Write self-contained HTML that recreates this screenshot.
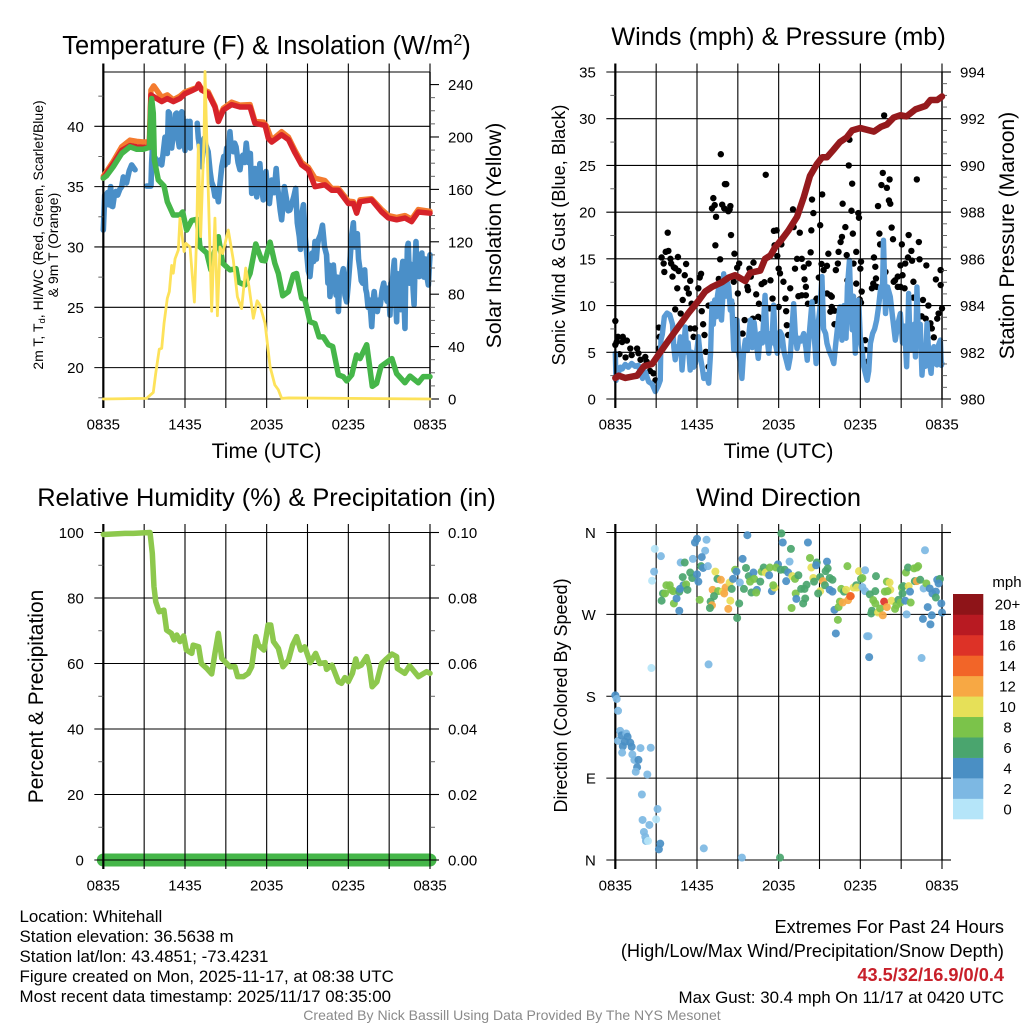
<!DOCTYPE html>
<html lang="en">
<head>
<meta charset="utf-8">
<title>Whitehall Mesonet Meteogram</title>
<style>
html,body{margin:0;padding:0;background:#fff}
svg{display:block;font-family:"Liberation Sans",Arial,sans-serif}
text{fill:#000}
</style>
</head>
<body>
<svg id="fig" xmlns="http://www.w3.org/2000/svg" width="1024" height="1024" viewBox="0 0 1024 1024">
<rect width="1024" height="1024" fill="#fff"/>

<text x="266.5" y="54" font-size="25.5" text-anchor="middle">Temperature (F) &amp; Insolation (W/m<tspan dy="-9" font-size="16">2</tspan><tspan dy="9">)</tspan></text>
<text x="778.5" y="45" font-size="25.3" text-anchor="middle">Winds (mph) &amp; Pressure (mb)</text>
<text x="266.5" y="506" font-size="25.4" text-anchor="middle">Relative Humidity (%) &amp; Precipitation (in)</text>
<text x="778.5" y="506" font-size="25.4" text-anchor="middle">Wind Direction</text>

<text x="266.5" y="458" font-size="21.2" text-anchor="middle">Time (UTC)</text>
<text x="778.5" y="458" font-size="21.2" text-anchor="middle">Time (UTC)</text>

<text transform="translate(43,235) rotate(-90)" font-size="14" text-anchor="middle">2m T, T<tspan dy="2" font-size="9.5">d</tspan><tspan dy="-2">, HI/WC (Red, Green, Scarlet/Blue)</tspan></text>
<text transform="translate(58,245) rotate(-90)" font-size="14" text-anchor="middle">&amp; 9m T (Orange)</text>
<text transform="translate(501,235.5) rotate(-90)" font-size="21.1" text-anchor="middle">Solar Insolation (Yellow)</text>
<text transform="translate(565,235) rotate(-90)" font-size="18.2" text-anchor="middle">Sonic Wind &amp; Gust (Blue, Black)</text>
<text transform="translate(1014,235.5) rotate(-90)" font-size="21.1" text-anchor="middle">Station Pressure (Maroon)</text>
<text transform="translate(43,696.5) rotate(-90)" font-size="21" text-anchor="middle">Percent &amp; Precipitation</text>
<text transform="translate(567,695.5) rotate(-90)" font-size="18" text-anchor="middle">Direction (Colored By Speed)</text>

<text x="1007" y="587" font-size="15" text-anchor="middle">mph</text>

<text x="19.5" y="922" font-size="16.9">Location: Whitehall</text>
<text x="19.5" y="942" font-size="16.9">Station elevation: 36.5638 m</text>
<text x="19.5" y="962" font-size="16.9">Station lat/lon: 43.4851; -73.4231</text>
<text x="19.5" y="982" font-size="16.9">Figure created on Mon, 2025-11-17, at 08:38 UTC</text>
<text x="19.5" y="1002" font-size="16.9">Most recent data timestamp: 2025/11/17 08:35:00</text>

<text x="1004" y="933" font-size="18.2" text-anchor="end">Extremes For Past 24 Hours</text>
<text x="1004" y="957" font-size="18.2" text-anchor="end">(High/Low/Max Wind/Precipitation/Snow Depth)</text>
<text x="1004" y="981" font-size="18.2" font-weight="bold" text-anchor="end" style="fill:#c8202a">43.5/32/16.9/0/0.4</text>
<text x="1004" y="1003" font-size="16.9" text-anchor="end">Max Gust: 30.4 mph On 11/17 at 0420 UTC</text>
<text x="512" y="1020" font-size="14.05" text-anchor="middle" style="fill:#8a8a8a">Created By Nick Bassill Using Data Provided By The NYS Mesonet</text>
</svg>

<script>
const timeLabels = ['0835','1435','2035','0235','0835'];
const tempTicks = [20,25,30,35,40];
const solarTicks = [0,40,80,120,160,200,240];
const windTicks = [0,5,10,15,20,25,30,35];
const pressureTicks = [980,982,984,986,988,990,992,994];
const humidityTicks = [0,20,40,60,80,100];
const precipTicks = ['0.00','0.02','0.04','0.06','0.08','0.10'];
const directionTicks = [0,90,180,270,360];
const directionLabels = ['N','E','S','W','N'];
const speedLabels = ['0','2','4','6','8','10','12','14','16','18','20+'];
const speedColors = ['#b5e5f9','#7db8e3','#4a8fc4','#4aa56e','#7bc34a','#e6e058','#f7a844','#f26528','#dd3227','#b81a22','#8e1418'];

const redHours = [0,.24,.73,1.35,1.96,2.45,2.94,3.38,3.5,3.92,4.29,4.7,5.14,5.63,6,6.49,6.86,7,7.22,7.71,8.2,8.45,8.82,9.43,10.04,10.78,11.14,11.76,11.88,12.12,12.37,13.1,13.6,14.08,14.57,15.06,15.55,16.28,16.78,17.27,18,18.37,18.61,18.86,19.71,20.45,20.94,21.55,22.16,22.65,23.14,24];
const redTemps = [35.7,36.1,36.9,38,38.4,38.3,38.25,38.25,42.6,42.3,42.05,42.3,42.05,42.3,42.7,42.95,43.15,43.5,43,42.7,41.6,40.4,41.35,41.8,41.6,41.6,40.25,40.1,40.1,39,38.7,39.3,38.9,37.8,36.8,36.4,35,35.15,34.7,34.7,33.6,33.6,32.8,33.75,33.9,32.9,32.4,32.25,32.4,32.1,32.9,32.8];

const orangeHours = [0,.73,1.35,1.96,2.45,2.94,3.38,3.5,3.7,3.92,4.29,4.7,5.14,5.63,6,6.49,6.86,7,7.22,7.71,8.2,8.45,8.82,9.43,10.04,10.78,11.14,11.76,12,12.37,13.1,13.6,14.08,14.57,15.06,15.55,16.28,16.78,17.27,18,18.37,18.61,18.86,19.71,20.45,20.94,21.55,22.16,22.65,23.14,24];
const orangeTemps = [35.85,37.1,38.3,38.85,38.75,38.7,38.7,43,43.35,43,42.4,42.6,42.2,42.5,42.85,43.05,43.2,43.5,43.1,42.85,41.7,40.6,41.5,42,41.75,41.8,40.4,40.35,40,38.85,39.55,39.1,38,37,36.6,35.7,35.5,34.85,34.85,33.8,33.75,33,33.9,34,33.1,32.6,32.45,32.6,32.3,33.1,32.95];

const greenHours = [0,.24,.73,1.35,1.96,2.45,2.94,3.38,3.5,3.55,3.67,3.75,4.04,4.46,4.7,5.14,5.63,5.83,6.12,6.49,6.9,7.1,7.6,7.9,8.08,8.45,8.77,9.3,9.75,9.92,10.4,10.78,11.2,11.63,11.88,12.25,12.6,12.86,13.18,13.6,13.96,14.2,14.57,14.8,15.18,15.55,15.85,16.16,16.53,16.85,17.27,17.63,17.88,18.25,18.6,18.86,19.35,19.76,20.08,20.4,21.2,21.55,22.16,22.53,23.14,23.5,24];
const greenTemps = [35.7,35.9,36.65,37.75,38.3,38.1,38.1,38.25,41.9,42.3,41.1,37.2,35.55,35.05,33.75,32.65,32.65,32.9,31.4,32.2,32.3,30,29.5,28.1,29.2,30.85,28.65,28.1,28.2,27.1,26.85,27.8,30.25,28.9,28.85,30.4,28.65,27.8,25.95,26.3,27.7,27.8,25.75,25.65,23.8,23.65,22.55,22.55,21.9,21.75,19.4,19.25,18.9,19.4,21.05,20.75,21.9,18.45,18.7,20.1,20.75,19.5,18.75,19.3,18.75,19.25,19.25];

const blueHours = [0,.05,.1,.2,.3,.37,.54,.6,.69,.8,.93,1.05,1.22,1.35,1.47,1.7,1.9,2.08,2.33,2.34,
3.18,3.5,3.55,3.6,3.7,3.8,4,4.15,4.29,4.4,
4.53,4.62,4.7,4.78,4.85,4.95,5.02,5.1,5.2,5.3,
5.39,5.48,5.58,5.68,5.76,5.85,5.92,6,6.1,6.17,
6.27,6.37,6.38,6.4,6.9,6.98,7.05,7.15,7.22,7.3,
7.4,7.55,7.7,7.85,7.95,8.08,8.2,8.3,8.45,8.55,
8.7,8.85,8.95,9.06,9.15,9.3,9.4,9.55,9.65,9.75,
9.9,10.04,10.15,10.25,10.38,10.5,10.65,10.8,10.9,11,
11.14,11.27,11.38,11.5,11.62,11.75,11.85,11.95,12.08,12.2,
12.37,12.55,12.7,12.8,12.9,13,13.1,13.2,13.3,13.45,
13.58,13.7,13.85,14,14.13,14.25,14.4,14.48,14.55,14.7,
14.82,14.94,15.06,15.18,15.28,15.35,15.45,15.55,15.65,15.72,
15.8,15.95,16.1,16.25,16.4,16.5,16.58,16.65,16.8,16.9,
17,17.1,17.2,17.27,17.36,17.45,17.55,17.63,17.75,17.88,
18,18.1,18.25,18.37,18.45,18.5,18.66,18.75,18.86,18.95,
19.05,19.2,19.28,19.35,19.45,19.55,19.65,19.72,19.82,19.9,
20,20.13,20.25,20.35,20.48,20.6,20.72,20.85,20.95,21.06,
21.13,21.2,21.3,21.38,21.48,21.55,21.6,21.65,21.72,21.78,
21.85,21.93,22,22.08,22.16,22.22,22.28,22.34,22.4,22.5,
22.55,22.62,22.7,22.76,22.83,22.9,22.97,23.03,23.1,23.2,
23.3,23.4,23.47,23.55,23.62,23.7,23.78,23.88,23.95,24];
const blueTemps = [31.4,32.8,34.3,33.6,34.5,33.5,35,33.4,33.35,34.2,34.6,34.3,34.8,35,35.8,35.3,36.3,36.8,36.4,null,
35.05,35.05,37,38.05,37,37.4,36.9,37.2,36.8,37.8,
39.1,38,37.75,41.2,41.1,39,38.2,39,39.5,41,
41.1,39,38.3,40,41.2,40.8,39,38,39.4,40.4,
39,40.4,38.2,null,40.25,39,38.5,37.5,36.65,38,
39,38.4,37.9,36.2,35.4,35,34.2,34.8,33.75,35,
36.65,37.5,36.8,38.2,37,39.55,38.2,37.9,38.6,38.3,
37,36.4,37.4,37.6,37,38.6,37,37.75,34.45,35.5,
36.5,34.15,35.4,36.9,35,33.9,35,36.25,34.5,33.6,
35.55,34.5,36.5,35,34,33,32.25,33.5,35,34,
33,33.05,33.6,34.2,34.85,32,30.85,29.8,32.5,33.5,
31,29.5,28,27.55,28.8,29.5,28.8,30.45,29,30,
30.6,31,31.8,30,29.35,27,28.5,25.9,27.5,28.5,
27,26,27.5,24.65,27,26.5,27.8,28.2,26,25.45,
27,28.5,31,32,30,31,31.1,29,28.1,27.2,
27,28.1,26.5,26.15,25,25.6,24.5,23.4,25.5,26.3,
25.2,24.65,25.6,25.2,26.4,27,26,25.5,26.6,24.35,
27,26.5,28,28.9,25.5,23.8,27.8,27,26.7,25,
24.8,28,28.8,26,23.25,28,27,30,30.3,27,
28.6,27.2,28.5,26.5,25.2,28.5,30.45,28,28.2,27.55,
29,29.5,28,27.5,29,29,27.5,26.85,28.4,29.35];

const solarHours = [0,3.18,3.67,3.85,4.11,4.29,4.46,4.7,4.85,5.02,5.14,5.27,5.51,5.63,5.93,6.07,6.37,6.69,6.86,6.98,7.15,7.4,7.47,7.6,7.96,8.2,8.38,8.57,8.77,9.18,9.55,9.85,10.16,10.46,10.7,11.02,11.3,11.5,11.88,12.25,12.6,12.86,13.1,13.6,24];
const solarValues = [0,.5,5,19.6,38,38.7,57.8,76.8,82,102,96,107,113.7,138,112.5,118.8,116,74,126,194,124,200,250,199,67,138,63.6,116,111,129,106,78,69,100,86,61.6,75,71.8,57.8,24.7,10.7,7,.5,.8,0];

const gustHours = [0,.2,.1,0,.55,.85,.5,.3,.75,1.1,1.2,1.6,1.7,1.85,2.2,2.3,2.55,2.8,2.95,3.2,3.25,3.2,3.4,3.55,3.6,3.7,3.9,3.85,4.05,4.1,4.3,4.2,4.4,4.6,4.65,4.55,4.4,4.8,4.95,5.1,5.2,5.25,5.4,5.5,5.6,5.5,5.85,5.75,6.1,6.2,6.3,6.35,6.45,6.55,6.65,6.85,6.85,7.1,7.2,7.3,7.4,7.35,7.6,7.7,7.85,7.75,8,8.05,8.15,8.3,8.4,8.45,8.5,8.7,8.75,8.55,8.85,9,8.95,9.1,9.35,9.5,9.7,9.75,9.85,9.95,10.15,10.1,10.35,10.55,10.5,10.75,10.75,10.95,11.05,11.25,11.4,11.35,11.55,11.65,11.85,11.7,11.9,12,12.1,12,12.2,12.35,12.5,12.55,12.6,12.7,12.85,13.05,13.1,13.2,13.35,13.45,13.55,13.7,13.7,13.85,13.9,14,14,14.15,14.2,14.35,14.4,14.45,14.55,14.7,14.8,14.8,15.05,15.2,15.15,15.3,14.95,15.55,15.65,15.55,15.8,15.9,15.9,15.8,16.1,16.1,16.2,16.35,16.4,16.55,16.65,16.7,16.9,17,17.05,17.2,17.15,17.35,17.4,17.45,17.5,17.7,17.7,17.85,17.9,18,18.05,18.1,17.95,18.05,18.35,18.35,18.55,18.85,19,19.1,19.15,18.95,19.2,19.3,19.4,19.45,19.55,19.65,19.75,19.95,20.1,20.15,20.2,20.3,20.4,19.85,20.45,20.55,20.75,20.75,20.95,21.05,20.95,21.1,21.3,21.25,21.55,21.75,21.5,21.8,21.9,21.9,22.15,22.3,22.35,22.6,22.5,22.8,22.85,23,23.15,23.25,23.4,23.55,23.65,23.9,23.75,23.9,24];
const gustSpeeds = [8.35,6.65,6.1,5.8,6.65,6.25,6.1,4.8,4.45,5.4,4.7,5.4,4.9,4.2,4.5,4,3,2.75,2,7.65,6.65,5.4,15.15,14.5,13.6,15.75,15.85,17.8,15,14.5,14.1,13.1,14,15.2,13.7,11.85,9.6,9.15,10.6,13.25,14.45,11.85,11.3,12.65,10.2,7.55,7.55,6.65,11.85,13,13.4,9.4,8,6.85,5.05,3.45,10,20.4,21.5,20.75,19.5,16.45,12.85,14.95,20.8,26.2,20.4,23,23,20.1,20.3,20.65,17.55,12.55,15.55,10.2,8.45,11.3,14.05,14.5,7,8.45,12,11.65,13.95,13.1,14.6,8.6,11.2,10.2,8.8,8.6,12.3,12.5,24,15.2,12.7,9.7,10.75,18,18.05,16.45,15.3,13.95,13.45,9.85,16.55,12.55,10.75,9.4,7.9,6.85,11.85,20.3,18.4,13.95,15,11,17.8,15,11.1,14.1,12.8,12,11.1,10.2,14.5,15.7,18.05,21.35,19.9,10.5,7.55,10.75,18.6,21.9,14.45,13.8,13,14.25,15.55,11.3,11.1,10.95,9.85,9.35,9.45,8,13.8,14.5,15.75,16.8,17.35,20.9,18.4,15.4,12.7,27.75,25,20.15,23.05,17.7,14.5,15.75,12.35,19.9,19.4,13.95,14.7,11.5,10.65,10.3,6.3,5.25,4,11.85,15.15,14.15,12.9,12.35,12,20.65,17.7,16.55,22.9,24.2,30.35,22.6,21.25,23.5,20.9,18.35,17.1,13.6,12.55,12.7,13.1,12,12,16.55,14.3,13.25,14.5,11.85,17.55,15.85,15.15,14.8,12.55,10.85,23.5,16.8,14.95,10.6,8.85,8.6,14.3,10,8.1,7.55,6.6,12.8,8.6,13.8,9.15,12.2,9.7];

const sonicHours = [0,.05,.15,.25,.37,.5,.73,.95,1.2,1.45,
1.7,1.85,2,2.2,2.45,2.7,2.94,3.15,3.3,3.35,
3.45,3.6,3.8,4,4.2,4.3,4.4,4.55,4.65,4.78,
4.9,5,5.14,5.25,5.35,5.5,5.62,5.75,5.88,6,
6.1,6.25,6.4,6.5,6.7,6.86,7,7.1,7.2,7.3,
7.4,7.5,7.6,7.7,7.8,7.9,7.96,8.1,8.2,8.33,
8.45,8.55,8.7,8.8,8.94,9.05,9.2,9.3,9.42,9.55,
9.7,9.82,9.92,10.05,10.2,10.35,10.5,10.65,10.8,11,
11.12,11.27,11.4,11.5,11.63,11.75,11.9,12,12.1,12.25,
12.4,12.55,12.7,12.85,13,13.1,13.22,13.35,13.5,13.65,
13.84,14,14.1,14.25,14.45,14.6,14.75,14.9,15.05,15.18,
15.3,15.45,15.55,15.7,15.9,16.05,16.2,16.35,16.5,16.65,
16.8,16.95,17.05,17.2,17.3,17.4,17.5,17.63,17.75,17.88,
18,18.15,18.25,18.5,18.62,18.74,18.9,19.05,19.2,19.35,
19.5,19.62,19.7,19.85,20,20.2,20.35,20.57,20.75,20.94,
21.1,21.25,21.4,21.48,21.55,21.65,21.8,21.95,22.05,22.16,
22.28,22.4,22.53,22.65,22.78,22.9,23.05,23.2,23.3,23.4,
23.52,23.64,23.75,23.88,23.95,24];
const sonicSpeeds = [4.9,2,3.1,2.9,3.4,3.2,3.7,3.4,3.8,3.5,
3.6,2.8,2.2,2.9,1.85,1.6,.8,1.4,2,6.3,
6.9,8.8,9.2,9,8,5.5,4.2,5.6,5,6.65,
3.1,5,7.7,5,6,3.1,5,3.4,3.8,5.3,
6.65,4.5,3.2,2.2,2.6,1.7,5,10.2,8,10.6,
8.8,11,12,9,8.45,11,13.4,11,12.6,12,
9.5,10.5,5.25,7,8.45,5,3.8,2.2,5,6.3,
5.2,7,8.45,5.5,8.2,6,4.35,7,6,11.1,
7,4.9,7,6,10.05,6,4.9,6,7.2,6.8,
5,4.2,3.3,4.5,8,10.2,7,5.4,6.5,6.2,
7,5.5,4.15,7,10.4,7,3.8,8,10,13.1,
7.5,7,5.95,5.2,4.5,3.8,6,8,9.85,6.3,
10,6.5,12,14.85,10,7.4,11,4.9,8,10.6,
6.5,5,3.45,2,3,5.95,7,7.5,8.45,10,
12,11,17,9.15,12,10.95,9,6.3,8,9.15,
6,7.8,3.45,7,11.3,6,5.25,8,4.5,12,
6,8,2.55,5,3.5,8.1,4.2,2.75,5,5.6,
3.8,3.65,5.8,6.3,3.6,3.8];

const pressureHours = [0,.25,.73,1.6,2.1,2.7,3.3,3.9,4.65,5.4,6.1,6.6,7.1,7.84,8.33,8.8,9.55,9.9,10.65,11,11.4,11.75,12.25,12.7,13.35,13.85,14.3,14.8,15.2,15.55,16,16.5,17,17.4,18,19,19.5,19.95,20.45,20.95,21.4,22.05,22.8,23.15,23.65,24];
const pressureValues = [980.9,981,980.9,981,981.4,981.5,982,982.5,983.1,983.7,984.2,984.6,984.8,985,985.2,985.3,985.05,985.4,985.5,986,986.15,986.5,986.85,987.2,987.8,988.65,989.55,990.05,990.35,990.35,990.65,991,991.2,991.5,991.6,991.45,991.65,991.75,992.05,992.15,992.1,992.4,992.55,992.8,992.8,992.95];

const humidityHours = [0,1.6,2.2,3.43,3.6,3.72,3.85,4.1,4.45,4.65,5,5.2,5.4,5.63,5.9,6.1,6.5,6.6,7,7.2,7.6,7.96,8.2,8.45,8.7,9.06,9.3,9.67,9.87,10.3,10.65,10.9,11.2,11.4,11.8,12.1,12.3,12.5,12.86,13.2,13.6,13.9,14.2,14.5,14.8,15.2,15.6,15.9,16.3,16.4,16.8,17.27,17.5,17.75,18,18.3,18.55,18.7,18.95,19.35,19.55,19.75,20.1,20.45,20.8,21.2,21.55,21.6,22.15,22.5,23.15,23.75,24];
const humidityValues = [99.4,99.75,99.75,100,93.6,83.5,78.9,75.8,76.3,70.2,69.2,67.2,68.7,66.7,68.4,64.1,63.1,65.6,65.1,60,58.5,56.8,63.1,69.2,61.6,60,59,59,56,56,57,59,68.2,65.6,64.1,71.75,71.75,66.7,64.6,59,61,65.6,68.2,64.1,65.1,60.25,63.1,60,60.25,58.2,59.5,54.45,53.95,55.7,54.45,57,61.4,59,59.5,62.1,59,52.9,54.45,60,61.4,62.9,62.1,58.5,57,59.3,56,57.5,57];

const precipHours = [0,6,12,18,24];
const precipValues = [0,0,0,0,0];

const dirHours = [0,.1,.2,.35,.2,.45,.8,.9,.7,.55,1.1,1.2,.5,1.25,1.4,1.7,1.6,1.5,1.85,2.6,2.35,1.95,2,3.1,3,2.5,2.1,2.2,2.25,2.4,3.3,3.2,6.5,9.3,12.1,2.65,6.85,2.9,3.35,2.85,2.7,
3.4,3.5,3.65,3.75,4,4.1,4.25,4.3,4.5,4.7,4.7,4.75,4.95,5,5.2,5.3,4.8,5.1,5.5,5.7,5.65,6,6.1,6.2,5.85,6,6.7,6.6,6.35,6.3,6.45,6.8,7.35,7.5,7.75,7.15,7.55,7.25,7,7.1,6.95,7.9,8.1,8,8.4,8.55,8.45,8.3,8.8,8.65,8.95,9.1,8.9,9.15,9.35,9.7,9.45,9.6,9.8,9.9,10.15,10.2,10,10.4,10.35,10.65,10.75,10.9,11.05,11.35,11.3,11.5,11.7,11.6,11.95,11.8,12.15,12.45,12.8,12.2,12.3,12.9,12.7,12.55,13,13.2,13.45,13.25,13.3,12.95,13.8,13.95,13.65,13.9,14.05,14.15,14.3,14.4,14.8,14.75,14.55,14.6,15.05,15.25,15.05,14.9,15.55,15.6,15.45,15.4,15.75,15.95,15.75,15.95,16.1,16.35,16.2,16.4,16.5,16.6,16.8,16.95,17.05,16.7,17.1,17.3,17.25,17.5,17.7,17.75,17.9,18.05,18.15,18.35,18.15,18.35,18.7,19.1,19.15,18.95,19.1,18.85,18.8,19.3,19.45,19.65,19.75,19.95,19.8,19.95,20.15,20.2,20,20.3,20.55,20.65,20.8,20.95,21.05,21.15,21.1,21.3,21.4,21.35,21.5,21.7,21.55,21.65,21.95,22.15,22.25,22,22.15,22.4,22.65,22.85,22.75,22.5,22.6,22.95,23.15,23.25,23.1,23.3,23.55,23.55,23.65,23.85,23.75,23.95,24,18.5,18.6,18.65];
const dirDegrees = [181,177,164,142,131,137,139,135.5,130,125,129,124.5,118,116,110,110,102,97,123,123.4,94,72,44,56,44.7,38.5,30.8,25.6,21,21,18,11.7,12.8,2.6,2.6,211,215,342,334,317,307,
285,293,293,302,302,297,295.5,282,287.5,295,274,298,311,302,303,297,327,327,316,331,310,314,306,286,349,353,352,340,333,323,321,323,317,309,308,297,295.5,290,284,280,277,295,299.5,293,305,298,285,276,319,309,266,282,317,305,331,357,298,321,312,306,316,309,294,297,294,306,317,321.5,316,321.5,313,295.5,299.5,302,325,321.5,319,319,328,359,349,342,316,306.5,312,309,313,293,287,277,282,287.5,298,298,302.5,349,332,321.5,327,324,310,306,311,306.5,295.5,293,328,320.5,317.5,302,310,308,297,295,275,264,249,278,284,298,295,297,323,283,285.6,290,290,299.5,302,299.5,317.5,309,310,318.5,300,295.5,292,295.5,312,285.6,282,274,271,272,276.5,269,284,278,295,306,305,297,295.5,285,276,280,286,283,299.5,301,293,285,270,316,321.5,283,301,295,320.5,321.5,323,306.5,306.5,308,298.5,304,340.5,222,265,278,259,269,298.5,293,295,288.5,308,309,304,282,272,246,246,223];
const dirSpeeds = [4,2,2,2,2,4,2,4,4,4,4,4,2,2,2,4,4,2,2,2,2,2,2,2,0,2,2,2,2,0,4,4,2,2,6,0,2,0,2,2,0,
6,6,8,8,8,8,8,8,4,6,4,4,6,4,8,6,2,6,6,2,6,4,4,8,4,4,2,2,4,6,4,2,10,6,12,12,8,6,6,12,6,10,12,12,10,6,10,12,8,4,6,6,4,2,4,4,6,6,6,8,4,8,6,4,8,6,8,6,10,8,4,4,10,8,4,8,6,6,2,6,4,6,4,4,10,8,6,8,4,8,6,6,6,6,6,4,8,10,6,4,10,6,6,12,10,6,4,6,6,6,6,6,4,4,4,8,4,8,8,8,6,10,8,12,12,14,14,10,6,10,10,6,8,2,2,2,6,6,6,8,8,6,6,10,8,12,16,12,8,8,10,10,8,10,8,8,6,8,8,6,6,4,2,8,6,8,10,4,8,8,8,6,12,6,2,8,2,2,4,4,4,4,4,4,4,6,4,6,4,4,4,2,2,4];

const SVG_NS = 'http://www.w3.org/2000/svg';
const fig = document.getElementById('fig');
const panelTemp = {x:103.33,y:72,w:326.67,h:327};
const panelWind = {x:615.33,y:72,w:326.67,h:327};
const panelHum = {x:103.33,y:532.5,w:326.67,h:327.5};
const panelDir = {x:615.33,y:532.5,w:326.67,h:327.5};

function xAxis(p){return function(hour){return p.x+hour/24*p.w;};}
function yAxis(p,min,max){return function(v){return p.y+p.h-(v-min)/(max-min)*p.h;};}

function make(tag,attrs,parent){
  const el=document.createElementNS(SVG_NS,tag);
  for(const k in attrs){el.setAttribute(k,attrs[k]);}
  (parent||fig).appendChild(el);
  return el;
}
function group(name){
  const g=make('g',{});
  
  
  return g;
}
function drawLine(name,hours,values,sx,sy,color,width,cap){
  let d='',pen=false;
  for(let i=0;i<hours.length;i++){
    if(values[i]===null||values[i]===undefined){pen=false;continue;}
    d+=(pen?'L':'M')+sx(hours[i]).toFixed(2)+' '+sy(values[i]).toFixed(2);
    pen=true;
  }
  const path=make('path',{d:d,fill:'none',stroke:color,'stroke-width':width,'stroke-linejoin':'round','stroke-linecap':cap||'round'});
  
  
  return path;
}
function segment(g,x1,y1,x2,y2,w,color){
  const s=make('line',{x1:x1,y1:y1,x2:x2,y2:y2,stroke:color||'#000','stroke-width':w},g);
  
  
}
function label(g,x,y,str,anchor){
  const t=make('text',{x:x,y:y,'font-size':15,'text-anchor':anchor},g);
  
  
  t.textContent=str;
}
function drawGrid(name,p,leftVals,leftLabels,sy,rightVals,rightLabels,syR,leftMinor,rightMinor,sx){
  const g=group(name);
  for(let i=0;i<=8;i++){
    const h=i*3,x=sx(h);
    segment(g,x,p.y-8.5,x,p.y+p.h+9,1.1);
  }
  for(let i=0;i<timeLabels.length;i++){
    label(g,sx(i*6),p.y+p.h+30.5,timeLabels[i],'middle');
  }
  segment(g,p.x,p.y,p.x+p.w,p.y,1.1);
  segment(g,p.x,p.y+p.h,p.x+p.w,p.y+p.h,1.1);
  segment(g,p.x,p.y-8.5,p.x,p.y+p.h+9,2.2);
  segment(g,p.x+p.w,p.y,p.x+p.w,p.y+p.h,1.4);
  leftVals.forEach(function(v,i){
    const y=sy(v);
    segment(g,p.x-9,y,p.x+p.w,y,1.1);
    label(g,p.x-19.5,y+5.5,leftLabels[i],'end');
  });
  rightVals.forEach(function(v,i){
    const y=syR(v);
    segment(g,p.x+p.w,y,p.x+p.w+9,y,1.1);
    label(g,p.x+p.w+18,y+5.5,rightLabels[i],'start');
  });
  leftMinor.forEach(function(v){segment(g,p.x-5,sy(v),p.x,sy(v),0.9,'#555');});
  rightMinor.forEach(function(v){segment(g,p.x+p.w,syR(v),p.x+p.w+5,syR(v),0.9,'#555');});
}

/* Temperature panel */
const tx=xAxis(panelTemp), ty=yAxis(panelTemp,17.4,44.5), sy=yAxis(panelTemp,0,249.6);
drawLine('dewpoint-line',blueHours,blueTemps,tx,ty,'#4a8fc8',5.6);
drawGrid('temperature-axes',panelTemp,tempTicks,tempTicks,ty,solarTicks,solarTicks,sy,[17.5,22.5,27.5,32.5,37.5,42.5],[10,20,30,50,60,70,90,100,110,130,140,150,170,180,190,210,220,230],tx);
drawLine('orange-temperature-line',orangeHours,orangeTemps,tx,ty,'#f47b2f',5.5);
drawLine('red-temperature-line',redHours,redTemps,tx,ty,'#d7232a',5.5);
drawLine('green-temperature-line',greenHours,greenTemps,tx,ty,'#45b649',5.5);
drawLine('solar-insolation-line',solarHours,solarValues,tx,sy,'#fde25a',2.8);

/* Winds panel */
const wx=xAxis(panelWind), wy=yAxis(panelWind,0,35), py=yAxis(panelWind,980,994);
const gustGroup=group('gust-dots');
for(let i=0;i<gustHours.length;i++){
  const dot=make('circle',{cx:wx(gustHours[i]),cy:wy(gustSpeeds[i]),r:3.2,fill:'#000'},gustGroup);
  
  
}
drawLine('sonic-wind-line',sonicHours,sonicSpeeds,wx,wy,'#5a9bd5',5.4);
drawGrid('winds-axes',panelWind,windTicks,windTicks,wy,pressureTicks,pressureTicks,py,[2.5,7.5,12.5,17.5,22.5,27.5,32.5],[980.5,981,981.5,982.5,983,983.5,984.5,985,985.5,986.5,987,987.5,988.5,989,989.5,990.5,991,991.5,992.5,993,993.5],wx);
drawLine('pressure-line',pressureHours,pressureValues,wx,py,'#951a1d',6.5);

/* Humidity panel */
const hx=xAxis(panelHum), hy=yAxis(panelHum,0,100), ry=yAxis(panelHum,0,.1);
drawLine('precipitation-line',precipHours,precipValues,hx,ry,'#45b649',13);
drawGrid('humidity-axes',panelHum,humidityTicks,humidityTicks,hy,[0,.02,.04,.06,.08,.1],precipTicks,ry,[10,30,50,70,90],[.01,.03,.05,.07,.09],hx);
drawLine('humidity-line',humidityHours,humidityValues,hx,hy,'#8dc84d',5.5);

/* Direction panel */
const dx=xAxis(panelDir), dy=yAxis(panelDir,0,360);
drawGrid('direction-axes',panelDir,directionTicks,directionLabels,dy,[],[],dy,[],[],dx);
const dirGroup=group('direction-dots');
for(let i=0;i<dirHours.length;i++){
  const idx=Math.min(10,Math.floor(dirSpeeds[i]/2));
  const dot=make('circle',{cx:dx(dirHours[i]),cy:dy(dirDegrees[i]),r:4,fill:speedColors[idx],'fill-opacity':.92},dirGroup);
  
  
}
/* the right edge of the direction grid extends past the plot */
const dirEdges=group('direction-grid-overhang');
directionTicks.forEach(function(v){segment(dirEdges,panelDir.x+panelDir.w,dy(v),panelDir.x+panelDir.w+9,dy(v),1.1);});

/* Colorbar */
const barGroup=group('speed-colorbar');
const barTop=594, barBottom=819, barH=(barBottom-barTop)/speedColors.length;
speedColors.forEach(function(c,i){
  const y=barBottom-(i+1)*barH;
  const r=make('rect',{x:953,y:y,width:30.3,height:barH+.3,fill:c},barGroup);
  
  
  label(barGroup,1007.5,y+barH/2+5.5,speedLabels[i],'middle');
});
</script>
</body>
</html>
